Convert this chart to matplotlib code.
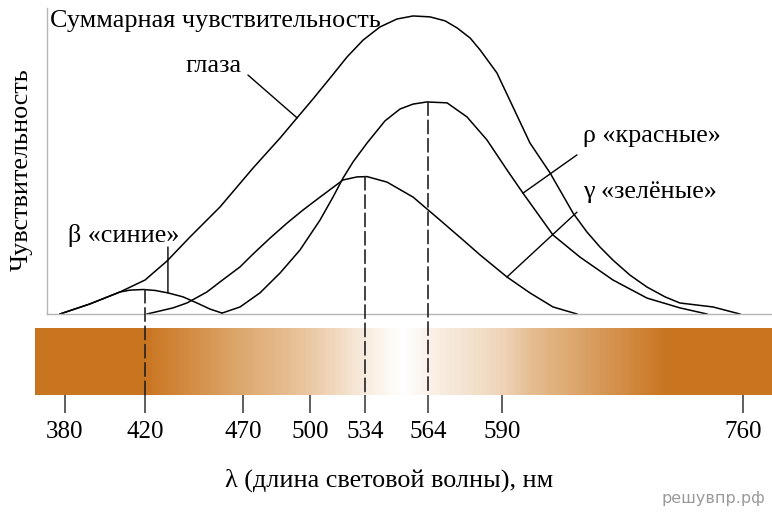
import numpy as np
import matplotlib
matplotlib.use('Agg')
import matplotlib.pyplot as plt
from matplotlib.colors import LinearSegmentedColormap
from matplotlib.patches import ConnectionPatch

# wavelength axis of the drawing is not linear: nm -> horizontal position
SCALE_NM = [300, 380, 420, 470, 500, 534, 564, 590, 760, 850]
SCALE_POS = [-95, 65, 145, 243, 310, 365, 428, 502, 743, 870.6]

tick_nm = [380, 420, 470, 500, 534, 564, 590, 760]
tick_labels = ['380', '420', '470', '500', '534', '564', '590', '760']

# summed eye sensitivity
eye_nm = [377.5, 392.5, 407.5, 420.0, 431.2, 443.0, 458.3, 474.5, 486.6, 494.2,
          501.9, 512.4, 522.9, 532.8, 541.1, 549.2, 556.9, 564.7, 570.0, 574.2,
          578.8, 582.3, 588.2, 597.8, 609.7, 623.9, 640.1, 649.9, 659.1, 668.3,
          680.3, 692.3, 705.0, 715.5, 738.8, 757.8]
eye_val = [0, 3.3, 7.2, 11.1, 17.3, 25.2, 35.0, 47.7, 57.5, 64.1,
           70.3, 77.1, 84.0, 89.5, 93.8, 96.4, 97.4, 97.1, 95.8, 93.5,
           90.2, 86.3, 78.8, 67.6, 55.9, 46.1, 33.0, 26.8, 21.9, 17.6,
           12.7, 8.8, 5.6, 3.6, 2.3, 0]

# beta "blue"
beta_nm = [377.5, 392.5, 407.5, 412.5, 419.0, 425.1, 431.7, 439.4, 446.5, 453.2, 459.3]
beta_val = [0, 3.3, 7.2, 7.8, 8.0, 7.7, 6.9, 5.6, 3.6, 1.6, 0.3]

# rho "red"
red_nm = [459.3, 468.5, 477.6, 486.6, 495.5, 506.2, 514.2, 520.4, 526.6, 535.0,
          543.5, 550.7, 556.9, 563.5, 570.7, 577.7, 584.7, 593.5, 604.8, 626.0,
          645.0, 668.3, 692.3, 715.5, 734.6]
red_val = [0.3, 2.3, 6.9, 13.4, 20.9, 30.7, 38.2, 44.4, 49.7, 55.9,
           63.1, 67.0, 68.6, 69.3, 69.0, 64.4, 56.9, 47.1, 39.5, 25.8,
           18.6, 11.1, 5.2, 2.0, 0]

# gamma "green"
green_nm = [421.0, 427.7, 434.3, 441.4, 451.6, 458.3, 468.5, 474.5, 482.1, 489.7,
            496.9, 506.2, 520.4, 529.1, 535.0, 544.5, 556.9, 568.2, 576.3, 582.3,
            593.5, 609.7, 626.0, 642.9]
green_val = [0, 1.0, 2.0, 3.6, 7.2, 10.5, 15.4, 19.6, 24.8, 29.7,
             34.0, 38.2, 43.8, 44.8, 44.9, 43.1, 38.2, 30.7, 24.2, 19.3,
             12.1, 6.9, 2.3, 0]

# dashed markers of the peaks
peak_nm = [420, 534, 564]
peak_val = [8.0, 44.9, 69.3]

# spectrum band colours
band_nm = [365, 420, 486, 552, 610, 706, 781]
band_colors = ['#C97520', '#C97520', '#E4B98A', '#FFFFFF', '#E5BD92', '#C97520', '#C97520']


def fwd(x):
    return np.interp(x, SCALE_NM, SCALE_POS)


def inv(p):
    return np.interp(p, SCALE_POS, SCALE_NM)


W, H = 772, 513
plt.rcParams['font.family'] = ['Liberation Serif', 'DejaVu Serif']
fig = plt.figure(figsize=(W / 100, H / 100), dpi=100)


def box(x0, y0, x1, y1):
    return [x0 / W, 1 - y1 / H, (x1 - x0) / W, (y1 - y0) / H]


ax = fig.add_axes(box(47, 8, 772, 314))
ax.set_xscale('function', functions=(fwd, inv))
ax.set_xlim(inv(47), inv(772))
ax.set_ylim(0, 100)
for s in ['top', 'right']:
    ax.spines[s].set_visible(False)
for s in ['left', 'bottom']:
    ax.spines[s].set_color('#b5b5b5')
    ax.spines[s].set_linewidth(1.0)
ax.set_xticks([])
ax.set_yticks([])
ax.minorticks_off()

lw = 1.1
ax.plot(eye_nm, eye_val, color='black', lw=lw)
ax.plot(beta_nm, beta_val, color='black', lw=lw)
ax.plot(red_nm, red_val, color='black', lw=lw)
ax.plot(green_nm, green_val, color='black', lw=lw)

bar = fig.add_axes(box(35, 328, 772, 395))
bar.set_xscale('function', functions=(fwd, inv))
bar.set_xlim(inv(35), inv(772))
bar.set_ylim(0, 1)
cmap = LinearSegmentedColormap.from_list(
    'band', [((n - band_nm[0]) / (band_nm[-1] - band_nm[0]), c) for n, c in zip(band_nm, band_colors)])
xg = np.linspace(band_nm[0], band_nm[-1], 900)
bar.pcolormesh(xg, [0, 1], xg[None, :-1], cmap=cmap, vmin=band_nm[0], vmax=band_nm[-1], shading='flat')
for s in bar.spines.values():
    s.set_visible(False)
bar.set_yticks([])
bar.set_xticks(tick_nm)
bar.set_xticklabels(tick_labels, fontsize=18)
bar.minorticks_off()
bar.tick_params(axis='x', length=13, width=1.1, color='#333333', pad=6)

for n, v in zip(peak_nm, peak_val):
    con = ConnectionPatch(xyA=(n, v), coordsA=ax.transData, xyB=(n, 0), coordsB=bar.transData,
                          color='#222222', lw=1.2, linestyle=(0, (8, 3)), zorder=5)
    fig.add_artist(con)

# leader lines
leaders = [((472.2, 78.1), (494.2, 64.1)),
           ((431.7, 21.9), (431.7, 6.9)),
           ((642.9, 52.0), (604.8, 39.5)),
           ((642.9, 33.3), (593.5, 12.1))]
for a, b in leaders:
    ax.annotate('', xy=b, xytext=a, arrowprops=dict(arrowstyle='-', color='black', lw=1.0,
                                                    shrinkA=0, shrinkB=0))


def ftext(x, y, s, **kw):
    fig.text(x / W, 1 - y / H, s, **kw)


ftext(50, 27, 'Суммарная чувствительность', fontsize=18.8, va='baseline', ha='left')
ftext(185, 72, 'глаза', fontsize=18.8, va='baseline', ha='left')
ftext(68, 242, 'β «синие»', fontsize=18.8, va='baseline', ha='left')
ftext(583, 142, 'ρ «красные»', fontsize=18.8, va='baseline', ha='left')
ftext(583, 198, 'γ «зелёные»', fontsize=18.8, va='baseline', ha='left')
ftext(22, 170, 'Чувствительность', fontsize=18.8, va='center', ha='center', rotation=90)
ftext(389, 487, 'λ (длина световой волны), нм', fontsize=18.8, va='baseline', ha='center')
ftext(765, 503, 'решувпр.рф', fontsize=11.5, va='baseline', ha='right', color='#9a9a9a',
      family='DejaVu Sans')

fig.savefig('out.png', dpi=100)
